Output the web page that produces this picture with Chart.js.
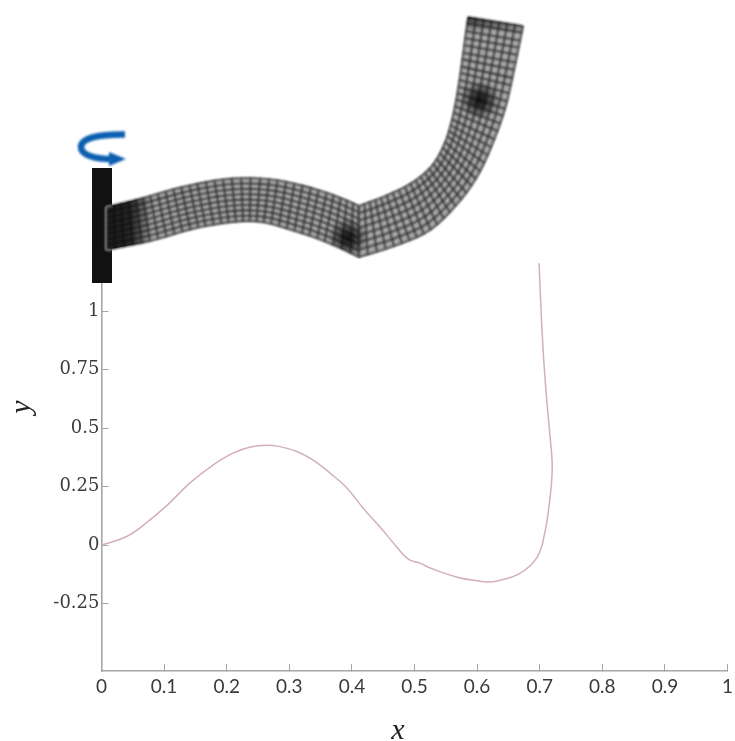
<!DOCTYPE html>
<html>
<head>
<meta charset="utf-8">
<title>Beam deflection</title>
<script src="https://cdn.jsdelivr.net/npm/chart.js@4/dist/chart.umd.min.js"></script>
<style>
  html, body { margin: 0; padding: 0; background: #fff; }
  canvas { display: block; }
</style>
</head>
<body>
<canvas id="chart" width="735" height="741"></canvas>
<script>
// curve values
const curveX = [0, 0.041, 0.073, 0.105, 0.141, 0.178, 0.21, 0.238, 0.264, 0.285, 0.312, 0.338, 0.365, 0.392, 0.418, 0.445, 0.472, 0.49, 0.509, 0.525, 0.568, 0.605, 0.62, 0.637, 0.669, 0.696, 0.708, 0.716, 0.72, 0.716, 0.712, 0.707, 0.703, 0.699];
const curveY = [0, 0.038, 0.098, 0.171, 0.265, 0.342, 0.393, 0.419, 0.427, 0.421, 0.4, 0.363, 0.308, 0.244, 0.158, 0.077, -0.009, -0.06, -0.077, -0.098, -0.137, -0.154, -0.158, -0.15, -0.12, -0.051, 0.051, 0.192, 0.333, 0.479, 0.598, 0.769, 0.953, 1.205];

const xTicks = [0, 0.1, 0.2, 0.3, 0.4, 0.5, 0.6, 0.7, 0.8, 0.9, 1];
const yTicks = [-0.25, 0, 0.25, 0.5, 0.75, 1];
const xTitle = "x";
const yTitle = "y";

// outline of the bent beam sketched above the plot, in canvas pixels
const beamTopA = [[106, 207], [143, 198], [183, 187], [227, 179], [267, 179], [300, 185], [333, 195], [359, 206]];
const beamBotA = [[106, 250], [150, 241], [192, 229], [232, 222], [262, 222], [292, 230], [324, 241], [359, 257]];
const beamTopB = [[359, 206], [383, 197], [410, 184], [431, 167], [444, 145], [452, 120], [458, 90], [463, 55], [468, 17]];
const beamBotB = [[359, 257], [397, 245], [430, 230], [458, 203], [478, 175], [494, 140], [506, 105], [515, 65], [523, 26]];

function spline(pts, u) {
  const n = pts.length - 1;
  const i = Math.min(Math.floor(u * n), n - 1);
  const t = u * n - i;
  const p0 = pts[Math.max(i - 1, 0)], p1 = pts[i], p2 = pts[i + 1], p3 = pts[Math.min(i + 2, n)];
  return [0, 1].map(function (k) {
    return 0.5 * (2 * p1[k] + (p2[k] - p0[k]) * t + (2 * p0[k] - 5 * p1[k] + 4 * p2[k] - p3[k]) * t * t + (3 * p1[k] - p0[k] - 3 * p2[k] + p3[k]) * t * t * t);
  });
}

// evenly spaced stations along the beam's mid line
function stations(top, bot, cols) {
  const steps = 400;
  const lens = [0];
  let prev = null;
  for (let s = 0; s <= steps; s++) {
    const a = spline(top, s / steps), b = spline(bot, s / steps);
    const m = [(a[0] + b[0]) / 2, (a[1] + b[1]) / 2];
    if (prev) lens.push(lens[s - 1] + Math.hypot(m[0] - prev[0], m[1] - prev[1]));
    prev = m;
  }
  const out = [];
  let s = 0;
  for (let i = 0; i <= cols; i++) {
    const want = lens[steps] * i / cols;
    while (s < steps && lens[s] < want) s++;
    out.push(s / steps);
  }
  return out;
}

function drawMesh(ctx, top, bot, cols, rows) {
  const us = stations(top, bot, cols);
  const tops = us.map((u) => spline(top, u));
  const bots = us.map((u) => spline(bot, u));
  const path = new Path2D();
  tops.concat(bots.slice().reverse()).forEach(function (p, i) {
    if (i === 0) path.moveTo(p[0], p[1]); else path.lineTo(p[0], p[1]);
  });
  path.closePath();
  ctx.fillStyle = "#a8a8a8";
  ctx.fill(path);

  ctx.strokeStyle = "#2a2a2a";
  ctx.lineWidth = 1.6;
  for (let i = 0; i <= cols; i++) {
    ctx.beginPath();
    ctx.moveTo(tops[i][0], tops[i][1]);
    ctx.lineTo(bots[i][0], bots[i][1]);
    ctx.stroke();
  }
  for (let r = 0; r <= rows; r++) {
    ctx.beginPath();
    for (let i = 0; i <= cols; i++) {
      const x = tops[i][0] + (bots[i][0] - tops[i][0]) * r / rows;
      const y = tops[i][1] + (bots[i][1] - tops[i][1]) * r / rows;
      if (i === 0) ctx.moveTo(x, y); else ctx.lineTo(x, y);
    }
    ctx.stroke();
  }
  return path;
}

function blob(ctx, x, y, radius, alpha) {
  const g = ctx.createRadialGradient(x, y, 0, x, y, radius);
  g.addColorStop(0, "rgba(10,10,10," + alpha + ")");
  g.addColorStop(0.35, "rgba(10,10,10," + alpha * 0.75 + ")");
  g.addColorStop(1, "rgba(10,10,10,0)");
  ctx.fillStyle = g;
  ctx.fillRect(x - radius, y - radius, radius * 2, radius * 2);
}

const sketchPlugin = {
  id: "sketch",
  afterDraw(chart) {
    const ctx = chart.ctx;
    ctx.save();

    // clamp
    ctx.fillStyle = "#111";
    ctx.fillRect(92, 168, 20, 115);

    // beam
    ctx.filter = "blur(0.8px)";
    const pathA = drawMesh(ctx, beamTopA, beamBotA, 32, 8);
    const pathB = drawMesh(ctx, beamTopB, beamBotB, 37, 7);
    ctx.save();
    ctx.clip(pathA);
    const root = ctx.createLinearGradient(106, 0, 152, 0);
    root.addColorStop(0, "rgba(10,10,10,0.9)");
    root.addColorStop(0.55, "rgba(10,10,10,0.8)");
    root.addColorStop(1, "rgba(10,10,10,0)");
    ctx.fillStyle = root;
    ctx.fillRect(106, 195, 46, 60);
    blob(ctx, 348, 238, 20, 0.95);
    ctx.restore();
    ctx.save();
    ctx.clip(pathB);
    blob(ctx, 350, 238, 18, 0.9);
    blob(ctx, 480, 100, 20, 0.95);
    const tip = ctx.createLinearGradient(0, 17, 0, 32);
    tip.addColorStop(0, "rgba(10,10,10,0.75)");
    tip.addColorStop(1, "rgba(10,10,10,0)");
    ctx.fillStyle = tip;
    ctx.fillRect(460, 15, 70, 17);
    ctx.restore();

    ctx.strokeStyle = "#c4c4c4";
    ctx.lineWidth = 1;
    ctx.beginPath();
    ctx.moveTo(112, 206);
    ctx.lineTo(106, 207);
    ctx.lineTo(106, 250);
    ctx.lineTo(112, 250);
    ctx.stroke();

    // rotation arrow
    ctx.strokeStyle = "#0b5fb0";
    ctx.lineWidth = 6.5;
    ctx.beginPath();
    ctx.moveTo(125, 134.5);
    ctx.bezierCurveTo(100, 134, 81, 138, 81, 147);
    ctx.bezierCurveTo(81, 155, 95, 159, 111, 159);
    ctx.stroke();
    ctx.fillStyle = "#0b5fb0";
    ctx.beginPath();
    ctx.moveTo(109, 152);
    ctx.lineTo(126, 159);
    ctx.lineTo(109, 166);
    ctx.closePath();
    ctx.fill();
    ctx.filter = "none";

    // axis titles sit off-centre in the picture
    ctx.fillStyle = "#222";
    ctx.font = "italic 30px 'Liberation Serif'";
    ctx.textAlign = "center";
    ctx.textBaseline = "middle";
    ctx.fillText(xTitle, 398, 731);
    ctx.translate(22, 407);
    ctx.rotate(-Math.PI / 2);
    ctx.fillText(yTitle, 0, 0);
    ctx.restore();
  },
};

const ctx = document.getElementById("chart").getContext("2d");
new Chart(ctx, {
  type: "line",
  data: {
    datasets: [
      {
        data: curveX.map((x, i) => ({ x: x, y: curveY[i] })),
        borderColor: "#d4b0b4",
        borderWidth: 1.5,
        pointRadius: 0,
        tension: 0.4,
        fill: false,
        clip: false,
      },
    ],
  },
  options: {
    responsive: false,
    animation: false,
    layout: { padding: { top: 262, right: 7.5, left: 0, bottom: 0 } },
    plugins: { legend: { display: false }, tooltip: { enabled: false } },
    scales: {
      x: {
        type: "linear",
        min: 0,
        max: 1,
        afterBuildTicks: (scale) => { scale.ticks = xTicks.map((v) => ({ value: v })); },
        afterFit: (scale) => {
          scale.height = 70;
          scale.paddingLeft = 0;
          scale.paddingRight = 0;
        },
        grid: { drawOnChartArea: false, tickLength: -7, color: "#a6a6a6", lineWidth: 1 },
        border: { color: "#a6a6a6", width: 1.6 },
        ticks: {
          autoSkip: false,
          maxRotation: 0,
          padding: 11,
          color: "#3a3a3a",
          font: { family: "Lato", size: 19 },
          callback: (v) => String(v),
        },
      },
      y: {
        type: "linear",
        min: -0.538,
        max: 1.21,
        afterBuildTicks: (scale) => { scale.ticks = yTicks.map((v) => ({ value: v })); },
        afterFit: (scale) => {
          scale.width = 101.5;
          scale.paddingTop = 0;
          scale.paddingBottom = 0;
        },
        grid: { drawOnChartArea: false, tickLength: -7, color: "#a6a6a6", lineWidth: 1 },
        border: { color: "#a6a6a6", width: 1.6 },
        ticks: {
          autoSkip: false,
          padding: 9,
          color: "#3d3d3d",
          font: { family: "DejaVu Serif", size: 18 },
          callback: (v) => String(v),
        },
      },
    },
  },
  plugins: [sketchPlugin],
});
</script>
</body>
</html>
